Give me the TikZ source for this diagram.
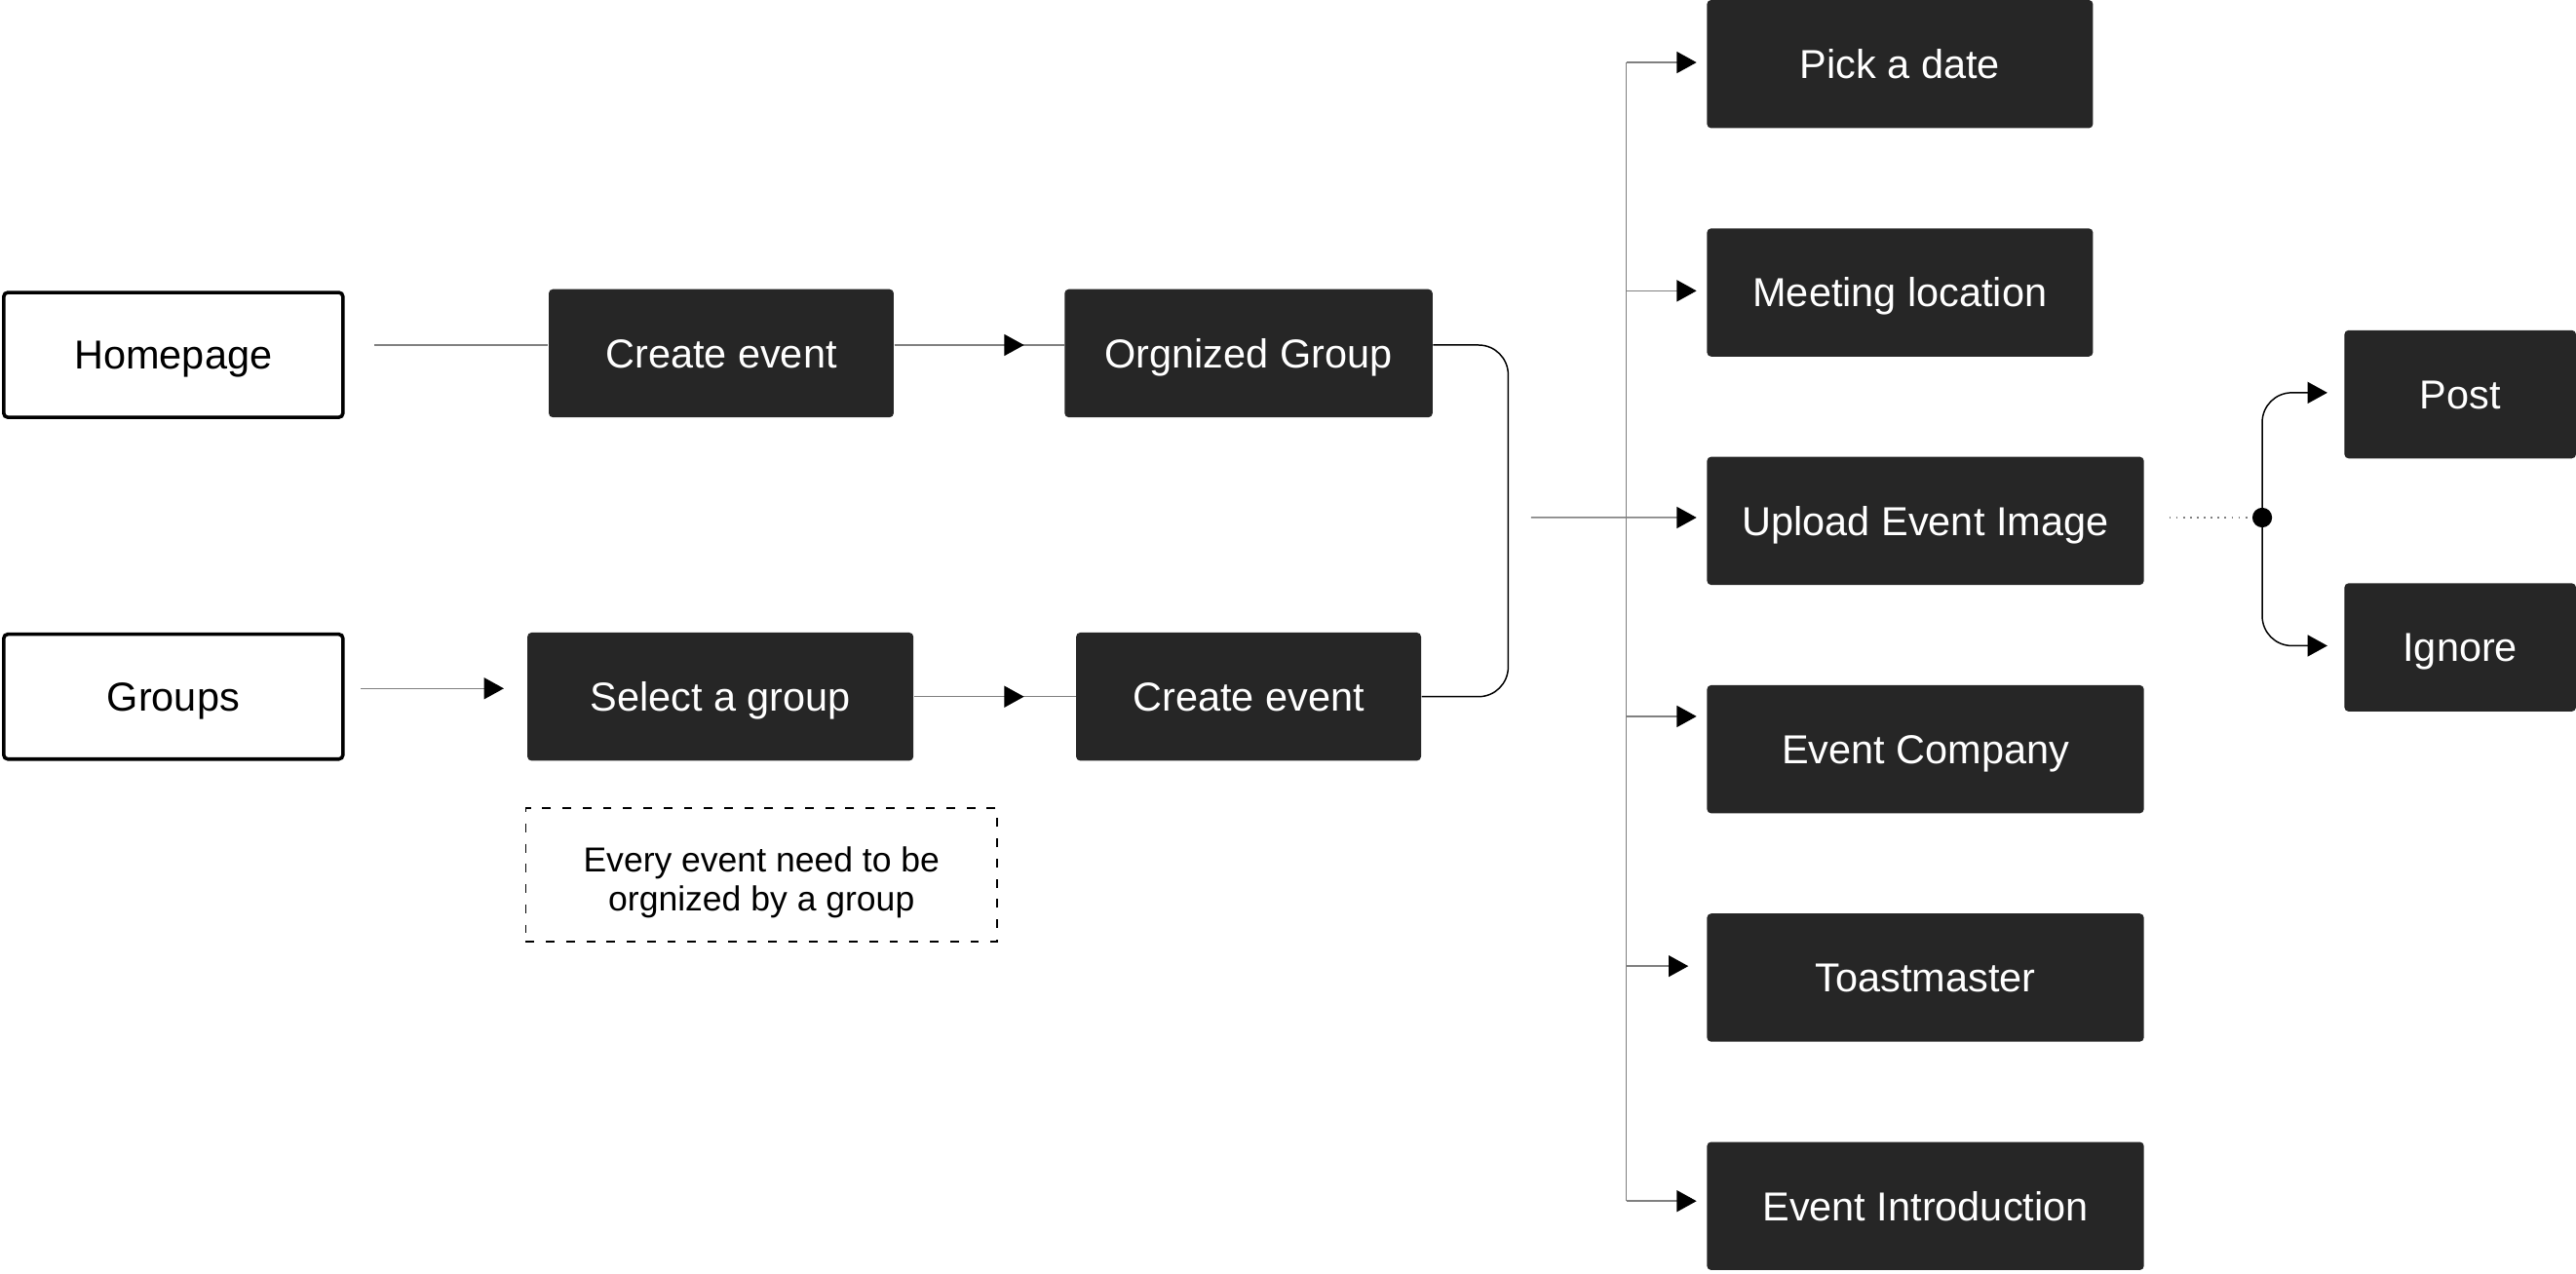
\documentclass[tikz,border=0pt]{standalone}
\usepackage{fontspec}
\setmainfont{Liberation Sans}
\usetikzlibrary{arrows.meta}
\definecolor{boxc}{HTML}{262626}
\definecolor{linec}{HTML}{808080}
\begin{document}
\begin{tikzpicture}[x=0.02cm,y=-0.02cm,
  dark/.style={fill=boxc,text=white,rounded corners=0.05cm,minimum height=1.56cm,inner sep=0pt,text height=10pt,text depth=0pt,font=\fontsize{14pt}{17pt}\selectfont},
  light/.style={draw=black,line width=1.2pt,fill=white,rounded corners=0.05cm,minimum height=1.52cm,minimum width=4.13cm,inner sep=0pt,text height=10pt,text depth=0pt,font=\fontsize{14pt}{17pt}\selectfont},
  note/.style={draw=black,line width=0.6pt,dash pattern=on 3pt off 4pt,minimum width=5.74cm,minimum height=1.62cm,inner sep=0pt},
  notetext/.style={inner sep=0pt,align=center,font=\fontsize{12pt}{13.6pt}\selectfont},
  conn/.style={draw=linec,line width=0.5pt},
  fork/.style={draw=black,line width=0.5pt},
  tip/.style={-{Triangle[length=0.24cm,width=0.26cm,color=black]}},
]
\useasboundingbox (0,0) rectangle (1568,775);

% left column
\node[light] (hp) at (105.5,216) {Homepage};
\node[light] (gr) at (105.5,424) {Groups};
% second column
\node[dark,minimum width=4.2cm] (ce1) at (439,215) {Create event};
\node[dark,minimum width=4.7cm] (sg) at (438.5,424) {Select a group};
\node[note] (nt) at (463.5,532.5) {};
\node[notetext] (ntt) at (463.5,537) {Every event need to be\\orgnized by a group};
% third column
\node[dark,minimum width=4.48cm] (og) at (760,215) {Orgnized Group};
\node[dark,minimum width=4.2cm] (ce2) at (760,424) {Create event};
% right column
\node[dark,minimum width=4.7cm] (pd) at (1156.5,39) {Pick a date};
\node[dark,minimum width=4.7cm] (ml) at (1156.5,178) {Meeting location};
\node[dark,minimum width=5.32cm] (ui) at (1172,317) {Upload Event Image};
\node[dark,minimum width=5.32cm] (ec) at (1172,456) {Event Company};
\node[dark,minimum width=5.32cm] (tm) at (1172,595) {Toastmaster};
\node[dark,minimum width=5.32cm] (ei) at (1172,734) {Event Introduction};
% far right
\node[dark,minimum width=2.82cm] (po) at (1497.5,240) {Post};
\node[dark,minimum width=2.82cm] (ig) at (1497.5,394) {Ignore};

% top row connectors
\coordinate (ce1in) at ([yshift=0.1cm]ce1.west);
\draw[conn] ([xshift=0.36cm]hp.east |- ce1in) -- (ce1in);
\draw[conn] ([yshift=0.1cm]ce1.east) -- ([yshift=0.1cm]og.west);
\draw[conn,tip] ([yshift=0.1cm]ce1.east) -- ++(79,0);
% bottom row connectors
\draw[conn,tip] ([xshift=0.2cm,yshift=0.1cm]gr.east) -- ([xshift=-0.28cm,yshift=0.1cm]sg.west);
\draw[conn] (sg.east) -- (ce2.west);
\draw[conn,tip] (sg.east) -- ++(67,0);
% bracket joining both rows
\draw[fork,rounded corners=0.36cm] ([yshift=0.1cm]og.east) -- (918,210) -- (918,424) -- (ce2.east);

% bus
\coordinate (junc) at (932,315);
\coordinate (bt) at (990,38);
\coordinate (bb) at (990,731);
\draw[conn] (bt) -- (bb);
\draw[conn,tip] (junc) -- ([xshift=-0.12cm,yshift=0.04cm]ui.west);
\coordinate (pdin) at ([xshift=-0.12cm,yshift=0.02cm]pd.west);
\coordinate (mlin) at ([xshift=-0.12cm,yshift=0.02cm]ml.west);
\coordinate (ecin) at ([xshift=-0.12cm,yshift=0.4cm]ec.west);
\coordinate (tmin) at ([xshift=-0.22cm,yshift=0.14cm]tm.west);
\coordinate (eiin) at ([xshift=-0.12cm,yshift=0.06cm]ei.west);
\draw[conn,tip] (bt |- pdin) -- (pdin);
\draw[conn,tip] (bt |- mlin) -- (mlin);
\draw[conn,tip] (bt |- ecin) -- (ecin);
\draw[conn,tip] (bt |- tmin) -- (tmin);
\draw[conn,tip] (bt |- eiin) -- (eiin);

% fork to Post / Ignore
\coordinate (dotc) at (1377,315);
\draw[draw=linec,line width=0.6pt,dash pattern=on 0.6pt off 1.8pt] ([xshift=0.3cm]ui.east |- dotc) -- (dotc);
\draw[fork,tip,rounded corners=0.36cm] (dotc) |- ([xshift=-0.2cm,yshift=0.02cm]po.west);
\draw[fork,tip,rounded corners=0.36cm] (dotc) |- ([xshift=-0.2cm,yshift=0.02cm]ig.west);
\node[circle,fill=black,inner sep=0pt,minimum size=0.24cm] (dot) at (dotc) {};
\end{tikzpicture}
\end{document}
